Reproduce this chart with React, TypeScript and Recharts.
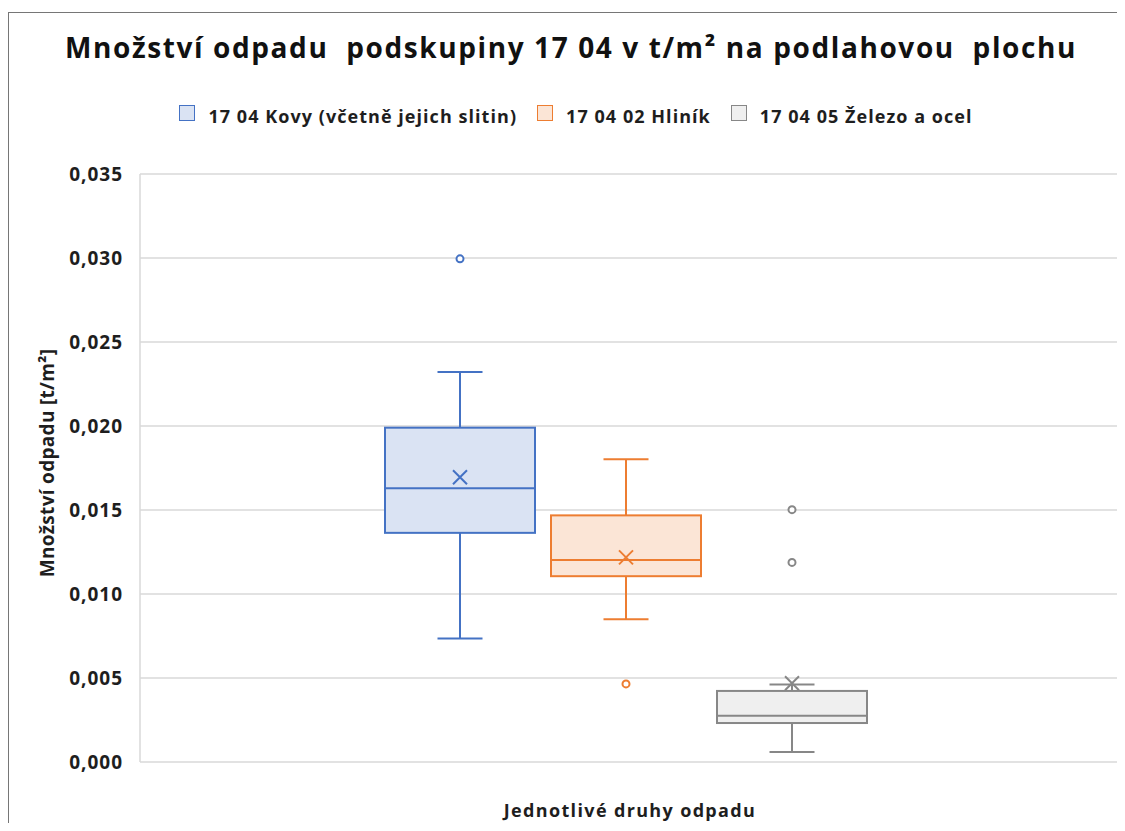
import { Bar, BarChart, CartesianGrid, XAxis, YAxis } from "recharts"

const chartTitle = "Množství odpadu  podskupiny 17 04 v t/m² na podlahovou  plochu"
const yAxisTitle = "Množství odpadu [t/m²]"
const categoryLabel = "Jednotlivé druhy odpadu"

const seriesNames = ["17 04 Kovy (včetně jejich slitin)", "17 04 02 Hliník", "17 04 05 Železo a ocel"]
const minima = [0.00735, 0.0085, 0.0006]
const quartile1 = [0.01364, 0.01106, 0.00232]
const medians = [0.01629, 0.01202, 0.00276]
const quartile3 = [0.0199, 0.01468, 0.00423]
const maxima = [0.02322, 0.01802, 0.00461]
const means = [0.01695, 0.01218, 0.00469]
const outliers = [[0.02995], [0.00465], [0.01502, 0.01188]]
const yTicks = [0, 0.005, 0.01, 0.015, 0.02, 0.025, 0.03, 0.035]

const strokeColors = ["#4472c4", "#ed7d31", "#878787"]
const fillColors = ["#dae3f3", "#fbe5d6", "#efefef"]
const textColor = "#1e1e1e"

// one row, one bar per series reaching the highest value of that series
const chartData = [
    {
        category: categoryLabel,
        ...Object.fromEntries(seriesNames.map((_, i) => [`s${i}`, Math.max(maxima[i], ...outliers[i])])),
    },
]

//Box plot drawn inside the bar's rectangle, using the bar's own scale.
function renderBox(i: number) {
    return (props: any) => {
        const { x, y, width, height, payload } = props
        const top = payload[`s${i}`]
        const base = y + height
        const py = (v: number) => base - (v / top) * height
        const cx = x + width / 2
        const cap = width * 0.15
        const color = strokeColors[i]
        const m = 7
        return (
            <g>
                <line x1={cx} x2={cx} y1={py(quartile3[i])} y2={py(maxima[i])} stroke={color} strokeWidth={2} />
                <line x1={cx - cap} x2={cx + cap} y1={py(maxima[i])} y2={py(maxima[i])} stroke={color} strokeWidth={2} />
                <line x1={cx} x2={cx} y1={py(quartile1[i])} y2={py(minima[i])} stroke={color} strokeWidth={2} />
                <line x1={cx - cap} x2={cx + cap} y1={py(minima[i])} y2={py(minima[i])} stroke={color} strokeWidth={2} />
                <rect
                    x={x}
                    y={py(quartile3[i])}
                    width={width}
                    height={py(quartile1[i]) - py(quartile3[i])}
                    fill={fillColors[i]}
                    stroke={color}
                    strokeWidth={2}
                />
                <line x1={x} x2={x + width} y1={py(medians[i])} y2={py(medians[i])} stroke={color} strokeWidth={2} />
                <path
                    d={`M${cx - m},${py(means[i]) - m}L${cx + m},${py(means[i]) + m}M${cx - m},${py(means[i]) + m}L${cx + m},${py(means[i]) - m}`}
                    stroke={color}
                    strokeWidth={2}
                    fill="none"
                />
                {outliers[i].map((v) => (
                    <circle key={v} cx={cx} cy={py(v)} r={3.5} fill="#fff" stroke={color} strokeWidth={2} />
                ))}
            </g>
        )
    }
}

function renderYLabel(props: any) {
    const { x, y, height } = props.viewBox
    const lx = x + 45
    const ly = y + height / 2 - 5
    return (
        <text
            x={lx}
            y={ly}
            transform={`rotate(-90 ${lx} ${ly})`}
            textAnchor="middle"
            fill={textColor}
            fontSize={19}
            fontWeight={700}
            letterSpacing={0.3}
        >
            {yAxisTitle}
        </text>
    )
}

function renderXLabel(props: any) {
    const { x, y, width } = props.viewBox
    return (
        <text
            x={x + width / 2}
            y={y + 55}
            textAnchor="middle"
            fill={textColor}
            fontSize={18}
            fontWeight={700}
            letterSpacing={1.35}
        >
            {categoryLabel}
        </text>
    )
}

function App() {
    return (
        <div style={{ paddingTop: 4 }}>
            <div
                style={{
                    position: "relative",
                    width: 1115,
                    height: 811,
                    boxSizing: "border-box",
                    borderTop: "1px solid #767676",
                    borderLeft: "1px solid #767676",
                    fontFamily: "'Open Sans', sans-serif",
                    color: textColor,
                    background: "#fff",
                }}
            >
                <BarChart
                    width={1114}
                    height={810}
                    data={chartData}
                    margin={{ top: 161, right: 3, bottom: 0, left: 0 }}
                    barSize={150}
                    barGap={16}
                >
                    <CartesianGrid vertical={false} stroke="#d9d9d9" strokeWidth={1.5} />
                    <XAxis
                        dataKey="category"
                        tick={false}
                        axisLine={false}
                        tickLine={false}
                        height={61}
                        padding={{ left: 0, right: 9 }}
                        label={renderXLabel}
                    />
                    <YAxis
                        domain={[0, 0.035]}
                        ticks={yTicks}
                        tickFormatter={(v: number) => v.toFixed(3).replace(".", ",")}
                        width={131}
                        axisLine={{ stroke: "#d9d9d9", strokeWidth: 1.5 }}
                        tickLine={false}
                        tickSize={0}
                        tickMargin={17}
                        tick={{ fill: textColor, fontSize: 19, fontWeight: 700, letterSpacing: 1 }}
                        label={renderYLabel}
                    />
                    {seriesNames.map((name, i) => (
                        <Bar
                            key={name}
                            name={name}
                            dataKey={`s${i}`}
                            shape={renderBox(i)}
                            isAnimationActive={false}
                        />
                    ))}
                </BarChart>
                <div
                    style={{
                        position: "absolute",
                        top: 17,
                        left: 0,
                        right: 0,
                        paddingLeft: 10,
                        textAlign: "center",
                        fontSize: 28,
                        lineHeight: "34px",
                        fontWeight: 700,
                        letterSpacing: 1.6,
                        whiteSpace: "pre",
                        color: "#111",
                    }}
                >
                    {chartTitle}
                </div>
                <div
                    style={{
                        position: "absolute",
                        top: 92,
                        left: 0,
                        right: 0,
                        paddingLeft: 20,
                        display: "flex",
                        justifyContent: "center",
                        alignItems: "center",
                        gap: 20,
                        fontSize: 18,
                        lineHeight: "22px",
                        fontWeight: 700,
                        letterSpacing: 1.05,
                    }}
                >
                    {seriesNames.map((name, i) => (
                        <div key={name} style={{ display: "flex", alignItems: "center" }}>
                            <span
                                style={{
                                    display: "inline-block",
                                    width: 16,
                                    height: 16,
                                    boxSizing: "border-box",
                                    border: `1.5px solid ${strokeColors[i]}`,
                                    background: fillColors[i],
                                    marginRight: 13,
                                    position: "relative",
                                    top: -3,
                                }}
                            />
                            <span>{name}</span>
                        </div>
                    ))}
                </div>
            </div>
        </div>
    )
}

export default App
